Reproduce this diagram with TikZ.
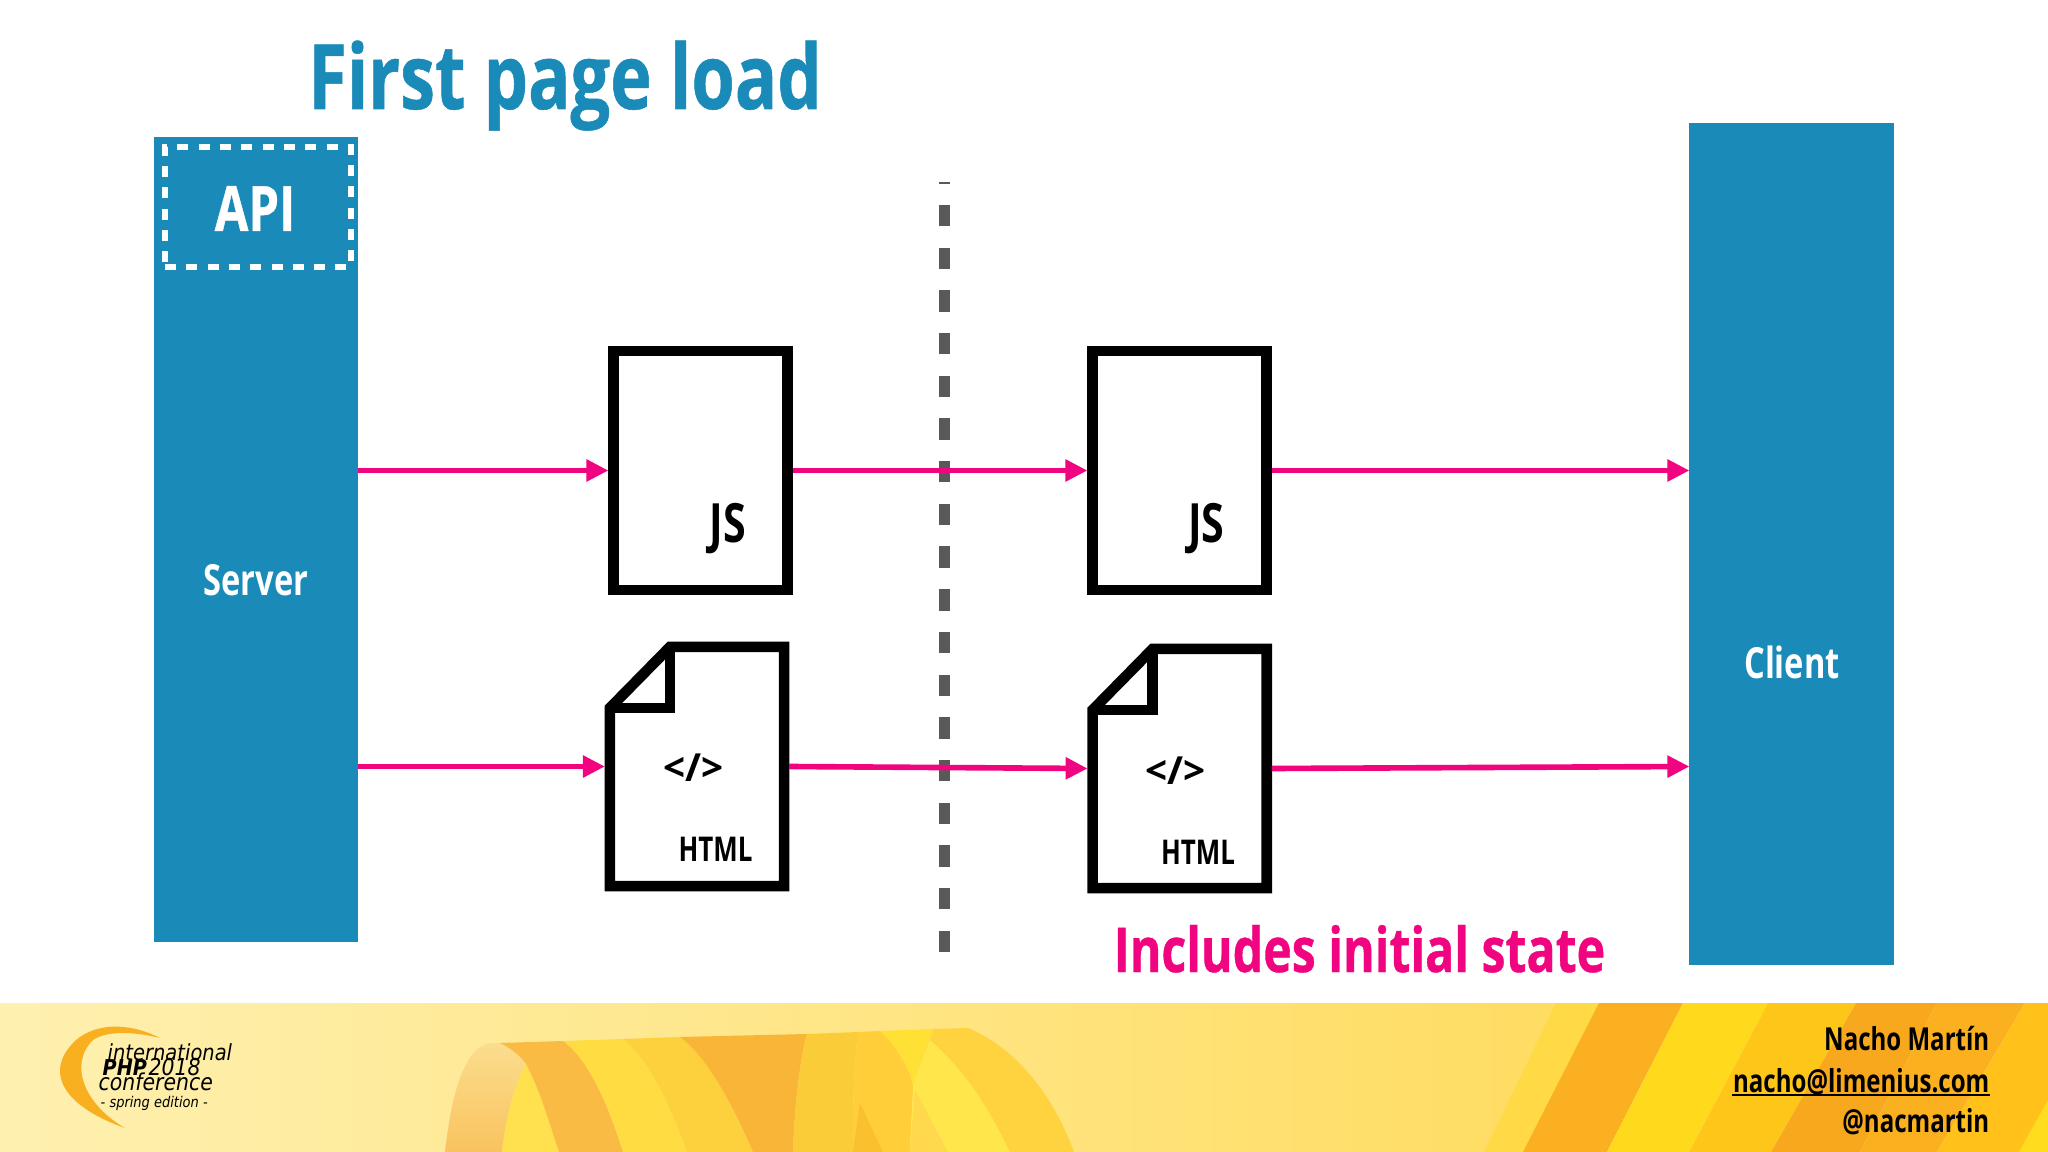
\documentclass[tikz,border=0pt]{standalone}
\usepackage{fontspec}
\setmainfont{Open Sans}[FakeStretch=0.76]
\newfontfamily\headfont{Open Sans}[FakeStretch=0.78,FakeBold=0.6]
\newfontfamily\tagfont{Open Sans}
\newfontfamily\logofont{DejaVu Sans}[FakeStretch=0.88]
\usepackage{tikz}
\usetikzlibrary{arrows.meta}
\definecolor{slideblue}{HTML}{1A8BB8}
\definecolor{flowpink}{HTML}{F0047F}
\definecolor{cutgrey}{HTML}{58595B}
\newcommand{\foldpage}[1]{%
\draw[pageline] ([shift={(5,66)}]#1.north west) -- ([shift={(65,5)}]#1.north west) -- ([shift={(-5,5)}]#1.north east) -- ([shift={(-5,-5)}]#1.south east) -- ([shift={(5,-5)}]#1.south west) -- cycle;
\draw[pageline] ([shift={(65,5)}]#1.north west) -- ([shift={(65,66)}]#1.north west) -- ([shift={(5,66)}]#1.north west);}
\begin{document}
\begin{tikzpicture}[x=0.01cm,y=-0.01cm]
\tikzstyle{every node}=[inner sep=0pt]
\tikzstyle{txt}=[anchor=base,font=\bfseries]
\tikzstyle{pageline}=[line width=3pt,black]
\tikzstyle{jspage}=[draw,black,line width=3pt,minimum width=1.735cm,minimum height=2.385cm]
\tikzstyle{htmlpage}=[outer sep=0pt,minimum width=1.84cm,minimum height=2.49cm]
\tikzstyle{tower}=[fill=slideblue,outer sep=0pt,minimum width=2.04cm]
\tikzstyle{flow}=[draw=flowpink,line width=1.6pt,-{Triangle[length=.22cm,width=.21cm]}]
\useasboundingbox (0,0) rectangle (2048,1152);
\fill[white] (0,0) rectangle (2048,1152);

% banner
\shade[left color={rgb,255:red,254;green,240;blue,176},right color={rgb,255:red,255;green,220;blue,96}] (0,1003) rectangle (1600,1152);
\fill[fill={rgb,255:red,255;green,217;blue,70}] (1556,1003) -- (1600,1003) -- (1530,1152) -- (1484,1152) -- cycle;
\fill[fill={rgb,255:red,250;green,176;blue,32}] (1599,1003) -- (1683,1003) -- (1607,1152) -- (1523,1152) -- cycle;
\fill[fill={rgb,255:red,255;green,217;blue,28}] (1683,1003) -- (1768,1003) -- (1689,1152) -- (1607,1152) -- cycle;
\fill[fill={rgb,255:red,255;green,198;blue,26}] (1768,1003) -- (1856,1003) -- (1771,1152) -- (1689,1152) -- cycle;
\fill[fill={rgb,255:red,248;green,168;blue,28}] (1856,1003) -- (1937,1003) -- (1860,1152) -- (1771,1152) -- cycle;
\fill[fill={rgb,255:red,251;green,176;blue,32}] (1937,1003) -- (2025,1003) -- (1937,1152) -- (1860,1152) -- cycle;
\fill[fill={rgb,255:red,255;green,193;blue,26}] (2025,1003) -- (2048,1003) -- (2048,1152) -- (1937,1152) -- cycle;
\fill[fill={rgb,255:red,255;green,220;blue,30}] (2048,1100) -- (2048,1152) -- (2019,1152) -- cycle;

% ribbon
\shade[top color={rgb,255:red,251;green,221;blue,142},bottom color={rgb,255:red,249;green,195;blue,94}] (445,1152) .. controls (452,1090) and (465,1048) .. (490,1043) -- (500,1043) .. controls (510,1048) and (520,1055) .. (526,1064) .. controls (512,1090) and (505,1125) .. (502,1152) -- cycle;
\fill[fill={rgb,255:red,255;green,224;blue,79}] (502,1152) .. controls (505,1125) and (512,1090) .. (526,1064) .. controls (540,1090) and (550,1125) .. (559,1152) -- cycle;
\fill[fill={rgb,255:red,250;green,187;blue,69}] (500,1043) -- (563,1041) .. controls (590,1060) and (610,1110) .. (623,1152) -- (559,1152) .. controls (550,1125) and (540,1090) .. (526,1064) .. controls (520,1055) and (510,1048) .. (500,1043) -- cycle;
\fill[fill={rgb,255:red,255;green,220;blue,66}] (563,1041) -- (623,1039) .. controls (650,1060) and (672,1110) .. (687,1152) -- (623,1152) .. controls (610,1110) and (590,1060) .. (563,1041) -- cycle;
\fill[fill={rgb,255:red,253;green,208;blue,62}] (623,1039) -- (680,1037) .. controls (710,1060) and (735,1110) .. (753,1152) -- (687,1152) .. controls (672,1110) and (650,1060) .. (623,1039) -- cycle;
\fill[fill={rgb,255:red,249;green,181;blue,55}] (680,1037) -- (807,1034) .. controls (800,1060) and (795,1100) .. (793,1152) -- (753,1152) .. controls (735,1110) and (710,1060) .. (680,1037) -- cycle;
\fill[fill={rgb,255:red,250;green,205;blue,56}] (807,1034) -- (858,1032) .. controls (855,1060) and (852,1100) .. (853,1152) -- (793,1152) .. controls (795,1100) and (800,1060) .. (807,1034) -- cycle;
\fill[fill={rgb,255:red,255;green,206;blue,56}] (858,1032) -- (880,1031) .. controls (900,1050) and (910,1070) .. (913,1085) .. controls (913,1100) and (911,1120) .. (910,1152) -- (853,1152) .. controls (852,1100) and (855,1060) .. (858,1032) -- cycle;
\fill[fill={rgb,255:red,251;green,192;blue,45}] (860,1103) -- (883,1152) -- (853,1152) -- cycle;
\fill[fill={rgb,255:red,255;green,225;blue,53}] (880,1031) -- (933,1029) -- (930,1040) -- (913,1085) .. controls (910,1070) and (900,1050) .. (880,1031) -- cycle;
\fill[fill={rgb,255:red,255;green,231;blue,75}] (930,1040) .. controls (965,1070) and (990,1110) .. (1010,1152) -- (910,1152) .. controls (911,1120) and (913,1100) .. (913,1085) -- cycle;
\fill[fill={rgb,255:red,255;green,216;blue,77}] (915,1090) -- (948,1152) -- (910,1152) -- cycle;
\fill[fill={rgb,255:red,255;green,210;blue,63}] (933,1029) -- (968,1028) .. controls (1020,1050) and (1055,1100) .. (1074,1152) -- (1010,1152) .. controls (990,1110) and (965,1070) .. (930,1040) -- cycle;

% logo
\fill[fill={rgb,255:red,249;green,176;blue,32}] (160,1038) .. controls (135,1025) and (100,1020) .. (76,1040) .. controls (44,1070) and (60,1105) .. (125,1128) .. controls (85,1105) and (68,1065) .. (93,1040) .. controls (108,1030) and (135,1032) .. (160,1038) -- cycle;
\node[anchor=base west,font=\logofont\itshape\fontsize{6.3}{7}\selectfont] (logoA) at (107,1060) {international};
\node[anchor=base west,font=\logofont\bfseries\itshape\fontsize{6.2}{7}\selectfont] (logoB) at (102,1075) {PHP};
\node[anchor=base west,font=\logofont\itshape\fontsize{6.6}{7}\selectfont] (logoC) at (148,1075) {2018};
\node[anchor=base west,font=\logofont\itshape\fontsize{6.6}{7}\selectfont] (logoD) at (98,1090) {conference};
\node[anchor=base west,font=\logofont\itshape\fontsize{4.2}{5}\selectfont] (logoE) at (100,1107) {- spring edition -};

% towers
\node[tower,minimum height=8.05cm] (server) at (256,539.5) {};
\node[tower,minimum height=8.42cm] (client) at (1791.5,544) {};
\node[draw=white,dashed,dash pattern=on .11cm off .103cm,line width=1.5pt,minimum width=1.86cm,minimum height=1.2cm] (api) at (258,207) {};
\node[txt,white,font=\headfont\bfseries\fontsize{17.8}{18}\selectfont] (apiText) at (255,231) {API};
\node[txt,white,font=\bfseries\fontsize{12.2}{12}\selectfont] (serverText) at (256,596) {Server};
\node[txt,white,font=\bfseries\fontsize{12.2}{12}\selectfont] (clientText) at (1792,678) {Client};

% pages
\node[jspage] (jsA) at (700.5,470.5) {};
\node[jspage] (jsB) at (1179.5,470.5) {};
\node[htmlpage] (htmlA) at (697,766.5) {};
\node[htmlpage] (htmlB) at (1179.7,768.5) {};
\foldpage{htmlA}
\foldpage{htmlB}
\node[txt,font=\bfseries\fontsize{15.4}{15}\selectfont] (jsTextA) at (728,543) {JS};
\node[txt,font=\bfseries\fontsize{15.4}{15}\selectfont] (jsTextB) at (1206.5,543) {JS};
\node[txt,font=\bfseries\fontsize{9.7}{10}\selectfont] (htmlTextA) at (715.5,861) {HTML};
\node[txt,font=\bfseries\fontsize{9.7}{10}\selectfont] (htmlTextB) at (1198,864) {HTML};
\node[txt,font=\tagfont\bfseries\fontsize{11}{11}\selectfont] (tagA) at (693.5,781) {</>};
\node[txt,font=\tagfont\bfseries\fontsize{11}{11}\selectfont] (tagB) at (1175.5,784) {</>};

% cut
\coordinate (cutBot) at (944.7,952);
\coordinate (cutTop) at (944.7,181.6);
\draw[cutgrey,line width=3pt,dash pattern=on .2133cm off .2133cm] (cutBot) -- (cutTop);

\draw[flow] (server.east |- jsA.west) -- (jsA.west);
\draw[flow] (jsA.east) -- (jsB.west);
\draw[flow] (jsB.east) -- (jsB.east -| client.west);
\draw[flow] (server.east |- htmlA.west) -- (htmlA.west);
\draw[flow] (htmlA.east) -- (htmlB.west);
\draw[flow] (htmlB.east) -- (client.west |- htmlA.east);

% texts
\node[txt,slideblue,font=\headfont\bfseries\fontsize{25.6}{26}\selectfont] (title) at (565,109) {First page load};
\node[txt,flowpink,font=\headfont\bfseries\fontsize{17.6}{18}\selectfont] (state) at (1359.5,972) {Includes initial state};
\node[anchor=base east,font=\bfseries\fontsize{9}{9}\selectfont] (author) at (1990,1050) {Nacho Martín};
\node[anchor=base east,font=\bfseries\fontsize{9}{9}\selectfont] (mail) at (1990,1092) {nacho@limenius.com};
\node[anchor=base east,font=\bfseries\fontsize{9}{9}\selectfont] (handle) at (1990,1132) {@nacmartin};
\draw[line width=.6pt] ([yshift=-.03cm]mail.base west) -- ([yshift=-.03cm]mail.base east);
\end{tikzpicture}
\end{document}
